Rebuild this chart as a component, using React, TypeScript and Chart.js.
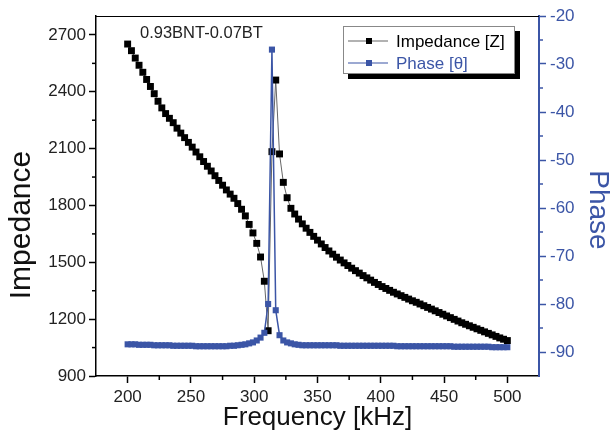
import React, { useEffect, useRef } from 'react';
import { Chart, registerables } from 'chart.js';

Chart.register(...registerables);

const BLUE = '#3b55a6';

const frequencies = [
  200, 203, 206, 209, 212, 215, 218, 221, 224, 227, 230, 233, 236, 239, 242, 245, 248, 251, 254, 257,
  260, 263, 266, 269, 272, 275, 278, 281, 284, 287, 290, 293, 296, 299, 302, 305, 308, 311, 314, 317,
  320, 323, 326, 329, 332, 335, 338, 341, 344, 347, 350, 353, 356, 359, 362, 365, 368, 371, 374, 377,
  380, 383, 386, 389, 392, 395, 398, 401, 404, 407, 410, 413, 416, 419, 422, 425, 428, 431, 434, 437,
  440, 443, 446, 449, 452, 455, 458, 461, 464, 467, 470, 473, 476, 479, 482, 485, 488, 491, 494, 497,
  500,
];

const impedance = [
  2652, 2617, 2578, 2540, 2503, 2465, 2428, 2390, 2350, 2315, 2285, 2260, 2237, 2208, 2182, 2158, 2133, 2108, 2082, 2057,
  2032, 2007, 1982, 1957, 1932, 1907, 1882, 1860, 1838, 1810, 1780, 1745, 1700, 1655, 1600, 1528, 1400, 1139, 2084, 2462,
  2072, 1922, 1841, 1785, 1755, 1728, 1703, 1680, 1658, 1637, 1617, 1597, 1578, 1560, 1543, 1527, 1512, 1497, 1483, 1469,
  1456, 1443, 1430, 1418, 1406, 1394, 1383, 1372, 1362, 1352, 1342, 1333, 1324, 1315, 1306, 1297, 1289, 1280, 1271, 1262,
  1253, 1244, 1235, 1226, 1217, 1208, 1199, 1190, 1181, 1173, 1165, 1157, 1149, 1141, 1133, 1125, 1117, 1109, 1101, 1094,
  1087,
];

const phase = [
  -88.4, -88.4, -88.4, -88.5, -88.5, -88.5, -88.5, -88.6, -88.6, -88.6, -88.6, -88.6, -88.7, -88.7, -88.7, -88.7, -88.7, -88.7, -88.8, -88.8,
  -88.8, -88.8, -88.8, -88.8, -88.8, -88.8, -88.8, -88.7, -88.7, -88.6, -88.5, -88.4, -88.2, -88.0, -87.6, -87.0, -86.0, -80.0, -27.0, -81.3,
  -86.5, -87.6, -88.0, -88.2, -88.4, -88.5, -88.6, -88.6, -88.6, -88.6, -88.6, -88.6, -88.6, -88.6, -88.6, -88.6, -88.7, -88.7, -88.7, -88.7,
  -88.7, -88.7, -88.7, -88.7, -88.7, -88.7, -88.7, -88.7, -88.7, -88.7, -88.7, -88.8, -88.8, -88.8, -88.8, -88.8, -88.8, -88.8, -88.8, -88.8,
  -88.8, -88.8, -88.8, -88.8, -88.8, -88.8, -88.9, -88.9, -88.9, -88.9, -88.9, -88.9, -88.9, -88.9, -88.9, -88.9, -89.0, -89.0, -89.0, -89.0,
  -89.0,
];

const xTickValues = [200, 250, 300, 350, 400, 450, 500];
const xMinorTicks = [225, 275, 325, 375, 425, 475];
const yTickValues = [900, 1200, 1500, 1800, 2100, 2400, 2700];
const yMinorTicks = [1050, 1350, 1650, 1950, 2250, 2550];
const y1TickValues = [-90, -80, -70, -60, -50, -40, -30, -20];
const y1MinorTicks = [-85, -75, -65, -55, -45, -35, -25];

const legendItems = ['Impedance [Z]', 'Phase [θ]'];
const sampleLabel = '0.93BNT-0.07BT';
const yTitle = 'Impedance';
const y1Title = 'Phase';
const xTitle = 'Frequency [kHz]';

const FONT = "'Liberation Sans', Arial, sans-serif";

const decorPlugin = {
  id: 'decor',
  afterDraw(chart: any) {
    const { ctx, chartArea, scales } = chart;
    const xs = scales.x;
    const ys = scales.y;
    const y1s = scales.y1;
    ctx.save();
    // top frame
    ctx.strokeStyle = '#000';
    ctx.lineWidth = 1;
    ctx.beginPath();
    ctx.moveTo(chartArea.left, chartArea.top + 0.5);
    ctx.lineTo(chartArea.right, chartArea.top + 0.5);
    ctx.stroke();
    // minor ticks
    ctx.lineWidth = 1.5;
    ctx.strokeStyle = '#000';
    xMinorTicks.forEach((v) => {
      const px = xs.getPixelForValue(v);
      ctx.beginPath();
      ctx.moveTo(px, chartArea.bottom);
      ctx.lineTo(px, chartArea.bottom + 4);
      ctx.stroke();
    });
    yMinorTicks.forEach((v) => {
      const py = ys.getPixelForValue(v);
      ctx.beginPath();
      ctx.moveTo(chartArea.left - 4, py);
      ctx.lineTo(chartArea.left, py);
      ctx.stroke();
    });
    ctx.strokeStyle = BLUE;
    y1MinorTicks.forEach((v) => {
      const py = y1s.getPixelForValue(v);
      ctx.beginPath();
      ctx.moveTo(chartArea.right, py);
      ctx.lineTo(chartArea.right + 4, py);
      ctx.stroke();
    });

    // axis titles (vertical)
    ctx.textAlign = 'center';
    ctx.textBaseline = 'middle';
    ctx.save();
    ctx.translate(22, 225);
    ctx.rotate(-Math.PI / 2);
    ctx.fillStyle = '#111';
    ctx.font = `30px ${FONT}`;
    ctx.fillText(yTitle, 0, 0);
    ctx.restore();
    ctx.save();
    ctx.translate(598, 210);
    ctx.rotate(Math.PI / 2);
    ctx.fillStyle = BLUE;
    ctx.font = `28px ${FONT}`;
    ctx.fillText(y1Title, 0, 0);
    ctx.restore();

    // sample label
    ctx.fillStyle = '#222';
    ctx.font = `16.5px ${FONT}`;
    ctx.textBaseline = 'middle';
    ctx.textAlign = 'left';
    ctx.fillText(sampleLabel, 140, 33);

    // legend box
    const bx = 343, by = 26, bw = 172, bh = 48;
    ctx.fillStyle = '#000';
    ctx.fillRect(bx + 5, by + 5, bw, bh);
    ctx.fillStyle = '#fff';
    ctx.fillRect(bx, by, bw, bh);
    ctx.strokeStyle = '#888';
    ctx.lineWidth = 1;
    ctx.strokeRect(bx + 0.5, by + 0.5, bw - 1, bh - 1);

    const rows = [
      { text: legendItems[0], line: '#666', mark: '#000', color: '#000', y: by + 15 },
      { text: legendItems[1], line: BLUE, mark: BLUE, color: BLUE, y: by + 37 },
    ];
    rows.forEach((r) => {
      ctx.strokeStyle = r.line;
      ctx.lineWidth = 1.2;
      ctx.beginPath();
      ctx.moveTo(bx + 5, r.y);
      ctx.lineTo(bx + 45, r.y);
      ctx.stroke();
      ctx.fillStyle = r.mark;
      ctx.fillRect(bx + 23, r.y - 3, 6, 6);
      ctx.fillStyle = r.color;
      ctx.font = `17px ${FONT}`;
      ctx.textBaseline = 'middle';
      ctx.fillText(r.text, bx + 53, r.y + 1);
    });
    ctx.restore();
  },
};

export default function App() {
  const canvasRef = useRef<HTMLCanvasElement | null>(null);

  useEffect(() => {
    document.body.style.margin = '0';
    const canvas = canvasRef.current;
    if (!canvas) return;
    const chart = new Chart(canvas, {
      type: 'line',
      data: {
        datasets: [
          {
            label: legendItems[1],
            data: frequencies.map((f, i) => ({ x: f, y: phase[i] })),
            yAxisID: 'y1',
            borderColor: BLUE,
            borderWidth: 1.5,
            pointStyle: 'rect',
            pointRadius: 4.3,
            pointBackgroundColor: BLUE,
            pointBorderColor: BLUE,
            pointBorderWidth: 0,
            tension: 0,
            order: 1,
          },
          {
            label: legendItems[0],
            data: frequencies.map((f, i) => ({ x: f, y: impedance[i] })),
            yAxisID: 'y',
            borderColor: '#666',
            borderWidth: 1,
            pointStyle: 'rect',
            pointRadius: 4.9,
            pointBackgroundColor: '#000',
            pointBorderColor: '#000',
            pointBorderWidth: 0,
            tension: 0,
            order: 2,
          },
        ],
      },
      options: {
        responsive: false,
        animation: false,
        devicePixelRatio: 1,
        layout: { padding: { top: 16, left: 0, right: 0, bottom: 0 } },
        plugins: { legend: { display: false }, tooltip: { enabled: false } },
        scales: {
          x: {
            type: 'linear',
            min: 175,
            max: 525,
            afterBuildTicks: (s: any) => { s.ticks = xTickValues.map((v) => ({ value: v })); },
            afterFit: (s: any) => { s.height = 67; },
            grid: { display: true, drawOnChartArea: false, drawTicks: true, tickLength: 7, tickColor: '#000', tickWidth: 1.5 },
            border: { display: true, color: '#000', width: 1.5 },
            ticks: {
              autoSkip: false, maxRotation: 0, padding: 4, color: '#222',
              font: { family: FONT, size: 17 },
              callback: (v: any) => String(v),
            },
            title: {
              display: true, text: xTitle, color: '#111',
              font: { family: FONT, size: 26, lineHeight: 1 },
              padding: { top: 0, bottom: 12 },
            },
          },
          y: {
            type: 'linear',
            position: 'left',
            min: 900,
            max: 2800,
            afterBuildTicks: (s: any) => { s.ticks = yTickValues.map((v) => ({ value: v })); },
            afterFit: (s: any) => { s.width = 96; },
            grid: { display: true, drawOnChartArea: false, drawTicks: true, tickLength: 7, tickColor: '#000', tickWidth: 1.5 },
            border: { display: true, color: '#000', width: 1.5 },
            ticks: {
              autoSkip: false, padding: 3, color: '#222',
              font: { family: FONT, size: 17 },
              callback: (v: any) => String(v),
            },
            title: { display: false },
          },
          y1: {
            type: 'linear',
            position: 'right',
            min: -95,
            max: -20,
            afterBuildTicks: (s: any) => { s.ticks = y1TickValues.map((v) => ({ value: v })); },
            afterFit: (s: any) => { s.width = 74; },
            grid: { display: true, drawOnChartArea: false, drawTicks: true, tickLength: 7, tickColor: BLUE, tickWidth: 1.5 },
            border: { display: true, color: BLUE, width: 2 },
            ticks: {
              autoSkip: false, padding: 4, color: BLUE,
              font: { family: FONT, size: 17 },
              callback: (v: any) => String(v),
            },
            title: { display: false },
          },
        },
      },
      plugins: [decorPlugin],
    });
    return () => chart.destroy();
  }, []);

  return (
    <div style={{ position: 'absolute', left: 0, top: 0, width: 613, height: 443 }}>
      <canvas ref={canvasRef} width={613} height={443} style={{ width: 613, height: 443, display: 'block' }} />
    </div>
  );
}
